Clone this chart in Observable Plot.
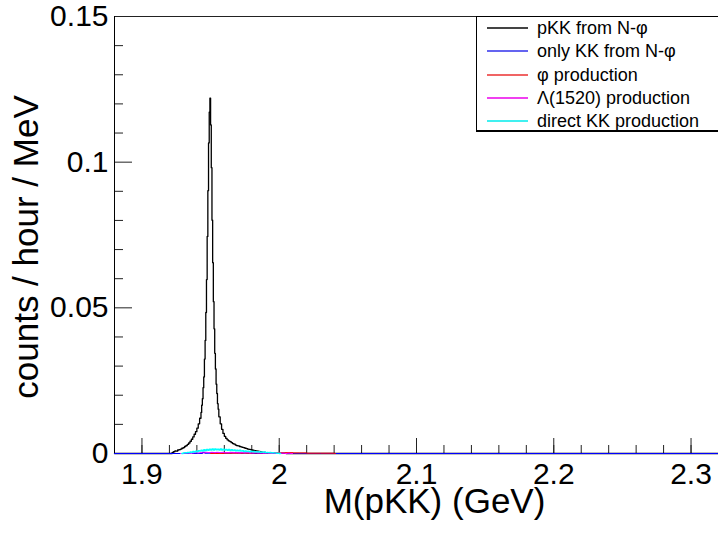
<!DOCTYPE html>
<html><head><meta charset="utf-8">
<script src="https://cdn.jsdelivr.net/npm/d3@7"></script>
<script src="https://cdn.jsdelivr.net/npm/@observablehq/plot@0.6"></script>
<style>
html,body{margin:0;padding:0;background:#fff;}
#wrap{position:relative;width:718px;height:538px;overflow:hidden;font-family:"Liberation Sans",Arial,sans-serif;}
#legend{position:absolute;left:476px;top:16px;width:270px;height:115px;border:1px solid #000;background:#fff;box-sizing:border-box;box-shadow:0 1px 0 #000;}
.row{position:absolute;left:0;width:260px;height:22px;}
.sample{position:absolute;left:10px;top:10px;width:41px;height:2px;}
.lab{position:absolute;left:60px;top:0;line-height:22px;font-size:18px;color:#000;white-space:nowrap;}
</style></head>
<body>
<div id="wrap"><div id="chart"></div><div id="legend"></div></div>
<script>
// ---- data ----
const xDomain = [1.88, 2.32];
const yDomain = [0, 0.15];
const xMajorTicks = [1.9, 2.0, 2.1, 2.2, 2.3];
const xTickLabels = ["1.9", "2", "2.1", "2.2", "2.3"];
const xMinorTicks = [1.88,1.90,1.92,1.94,1.96,1.98,2.00,2.02,2.04,2.06,2.08,2.10,2.12,2.14,2.16,2.18,2.20,2.22,2.24,2.26,2.28,2.30,2.32];
const yMajorTicks = [0, 0.05, 0.1, 0.15];
const yTickLabels = ["0", "0.05", "0.1", "0.15"];
const yMinorTicks = [0.01,0.02,0.03,0.04,0.06,0.07,0.08,0.09,0.11,0.12,0.13,0.14];
const xTitle = "M(pKK) (GeV)";
const yTitle = "counts / hour / MeV";
const seriesNames = ["pKK from N-φ", "only KK from N-φ", "φ production", "Λ(1520) production", "direct KK production"];
const seriesColors = ["#000000", "#0000ff", "#ff0000", "#ff00ff", "#00ffff"];
const legendColors = ["#444444", "#6464f0", "#f06464", "#f040f0", "#40f0f0"];

// pKK from N-phi (bin lower edges, values)
const pkkEdges = [1.880,1.922,1.923,1.924,1.925,1.926,1.927,1.928,1.929,1.930,1.931,1.932,1.933,1.934,1.935,1.936,1.937,1.938,1.939,1.940,1.941,1.942,
 1.9430,1.9435,1.9440,1.9445,1.9450,1.9455,1.9460,1.9465,1.9470,1.9475,1.9480,1.9485,1.9490,1.9495,1.9500,1.9505,1.9510,1.9515,1.9520,1.9525,1.9530,1.9535,1.9540,1.9545,1.9550,1.9555,
 1.956,1.957,1.958,1.959,1.960,1.961,1.962,1.963,1.964,1.965,1.966,1.967,1.968,1.969,1.970,1.971,1.972,1.973,1.974,1.975,1.976,1.977,1.978,1.979,1.980,1.981,1.982,1.983,1.984,1.985,1.986,1.987,1.988,1.989,1.990,1.992,1.995,2.000,2.005,2.320];
const pkkValues = [0,0.0004,0.0006,0.0009,0.0008,0.0012,0.0013,0.0015,0.0018,0.0020,0.0024,0.0027,0.0031,0.0036,0.0042,0.0049,0.0057,0.0066,0.0075,0.0087,0.0102,0.0121,
 0.0141,0.0166,0.0188,0.0226,0.0263,0.0324,0.0388,0.0484,0.0597,0.0745,0.0902,0.1066,0.1172,0.1220,0.1128,0.0981,0.0801,0.0655,0.0521,0.0428,0.0344,0.0290,0.0238,0.0206,0.0171,0.0152,
 0.0126,0.0102,0.0083,0.0069,0.0059,0.0052,0.0047,0.0043,0.0041,0.0037,0.0034,0.0032,0.0029,0.0027,0.0026,0.0024,0.0023,0.0021,0.0020,0.0018,0.0017,0.0015,0.0014,0.0013,0.0012,0.0011,0.0010,0.0009,0.0008,0.0007,0.0006,0.0005,0.0004,0.0004,0.0003,0.0002,0.0001,0.0001,0,0];

// only KK from N-phi
const kkEdges = [1.880,1.935,1.937,1.944,1.946,1.950,1.955,1.965,1.970,1.980,2.320];
const kkValues = [0,0.0002,0,0.0004,0.0001,0.0002,0.0001,0.0002,0.0001,0,0];

// phi production
const phiEdges = [1.950,1.960,1.970,1.980,1.990,1.995,2.000,2.005,2.010,2.015,2.020,2.030,2.040,2.041];
const phiValues = [0,0.0001,0.0001,0.0002,0.0002,0.0003,0.0002,0.0003,0.0002,0.0002,0.0001,0.0001,0,0];

// Lambda(1520) production
const lamEdges = [1.928,1.930,1.932,1.934,1.936,1.938,1.940,1.942,1.944,1.946,1.948,1.950,1.952,1.954,1.956,1.958,1.960,1.962,1.964,1.966,1.968,1.970,1.972,1.974,1.976,1.978,1.980,1.982,1.984,1.986,1.988,1.990,1.992,1.994,1.996,1.998,2.000,2.002,2.004,2.006,2.008,2.010];
const lamValues = [0,0.0001,0.0002,0.0001,0.0002,0.0003,0.0002,0.0003,0.0002,0.0004,0.0003,0.0004,0.0003,0.0004,0.0003,0.0004,0.0003,0.0003,0.0004,0.0003,0.0003,0.0002,0.0003,0.0002,0.0003,0.0002,0.0002,0.0003,0.0002,0.0002,0.0001,0.0002,0.0001,0.0001,0.0001,0.0001,0.0001,0.0001,0,0.0001,0,0];

// direct KK production
const dirEdges = [1.929,1.930,1.931,1.932,1.933,1.934,1.935,1.936,1.937,1.938,1.939,1.940,1.941,1.942,1.943,1.944,1.945,1.946,1.947,1.948,1.949,
 1.950,1.951,1.952,1.953,1.954,1.955,1.956,1.957,1.958,1.959,1.960,1.961,1.962,1.963,1.964,1.965,1.966,1.967,1.968,1.969,
 1.970,1.971,1.972,1.973,1.974,1.975,1.976,1.977,1.978,1.979,1.980,1.981,1.982,1.983,1.984,1.985,1.986,1.987,1.988,1.989,
 1.990,1.991,1.992,1.993,1.994,1.995,1.996,1.997,1.998,1.999,2.000,2.001];
const dirValues = [0,0.0002,0.0003,0.0002,0.0004,0.0003,0.0005,0.0004,0.0007,0.0005,0.0008,0.0006,0.0010,0.0008,0.0011,0.0009,0.0013,0.0010,0.0014,0.0011,0.0015,
 0.0012,0.0016,0.0012,0.0016,0.0013,0.0015,0.0012,0.0016,0.0012,0.0015,0.0012,0.0014,0.0011,0.0014,0.0010,0.0013,0.0010,0.0012,0.0009,0.0011,
 0.0009,0.0011,0.0008,0.0010,0.0007,0.0009,0.0007,0.0008,0.0006,0.0008,0.0006,0.0007,0.0005,0.0006,0.0005,0.0006,0.0004,0.0005,0.0004,0.0005,
 0.0003,0.0004,0.0003,0.0004,0.0002,0.0003,0.0002,0.0002,0.0001,0.0001,0,0];

// ---- layout ----
const W = 718, H = 538, mL = 114, mR = 0, mT = 16, mB = 85;
const frameW = W - mL - mR, frameH = H - mT - mB;
const toPts = (xs, ys) => xs.map((x, i) => ({x, y: ys[i]}));
const series = [
  toPts(pkkEdges, pkkValues),
  toPts(kkEdges, kkValues),
  toPts(phiEdges, phiValues),
  toPts(lamEdges, lamValues),
  toPts(dirEdges, dirValues)
];
const widths = [1.3, 1.2, 1, 1, 1.4];

const chart = Plot.plot({
  width: W, height: H,
  marginLeft: mL, marginRight: mR, marginTop: mT, marginBottom: mB,
  style: {fontFamily: "Liberation Sans, Arial, sans-serif", background: "white", overflow: "visible"},
  x: {domain: xDomain, axis: null},
  y: {domain: yDomain, axis: null},
  marks: [
    Plot.ruleY([yDomain[1]], {stroke: "#222", strokeWidth: 1}),
    Plot.ruleY(yMinorTicks, {insetRight: frameW - 9, stroke: "#222"}),
    Plot.ruleY(yMajorTicks, {insetRight: frameW - 18, stroke: "#222"}),
    Plot.ruleX(xMinorTicks, {insetTop: frameH - 8, stroke: "#222"}),
    Plot.ruleX(xMajorTicks, {insetTop: frameH - 15, stroke: "#222"}),
    ...series.map((s, i) => Plot.line(s, {x: "x", y: "y", curve: "step-after", stroke: seriesColors[i], strokeWidth: widths[i]})),
    Plot.ruleX([xDomain[0]], {stroke: "#000", strokeWidth: 1}),
    Plot.text(yMajorTicks, {x: xDomain[0], y: d => d, text: d => yTickLabels[yMajorTicks.indexOf(d)], textAnchor: "end", dx: -6, lineAnchor: "middle", fontSize: 30, fill: "#000"}),
    Plot.text(xMajorTicks, {x: d => d, y: yDomain[0], text: d => xTickLabels[xMajorTicks.indexOf(d)], lineAnchor: "top", dy: 9, fontSize: 30, fill: "#000"}),
    Plot.text([xTitle], {text: d => d, frameAnchor: "bottom", textAnchor: "middle", dx: 18, dy: 48, lineAnchor: "middle", fontSize: 35, fill: "#000"}),
    Plot.text([yTitle], {text: d => d, frameAnchor: "left", textAnchor: "middle", rotate: -90, dx: -88, dy: 12, lineAnchor: "middle", fontSize: 35, fill: "#000"})
  ]
});
document.getElementById("chart").appendChild(chart);

// ---- legend ----
const legend = document.getElementById("legend");
const rowTops = [0, 23, 47, 70, 93];
seriesNames.forEach((name, i) => {
  const row = document.createElement("div");
  row.className = "row";
  row.style.top = rowTops[i] + "px";
  const sw = document.createElement("div");
  sw.className = "sample";
  sw.style.background = legendColors[i];
  const lb = document.createElement("div");
  lb.className = "lab";
  lb.textContent = name;
  row.appendChild(sw); row.appendChild(lb);
  legend.appendChild(row);
});
</script>
</body></html>
